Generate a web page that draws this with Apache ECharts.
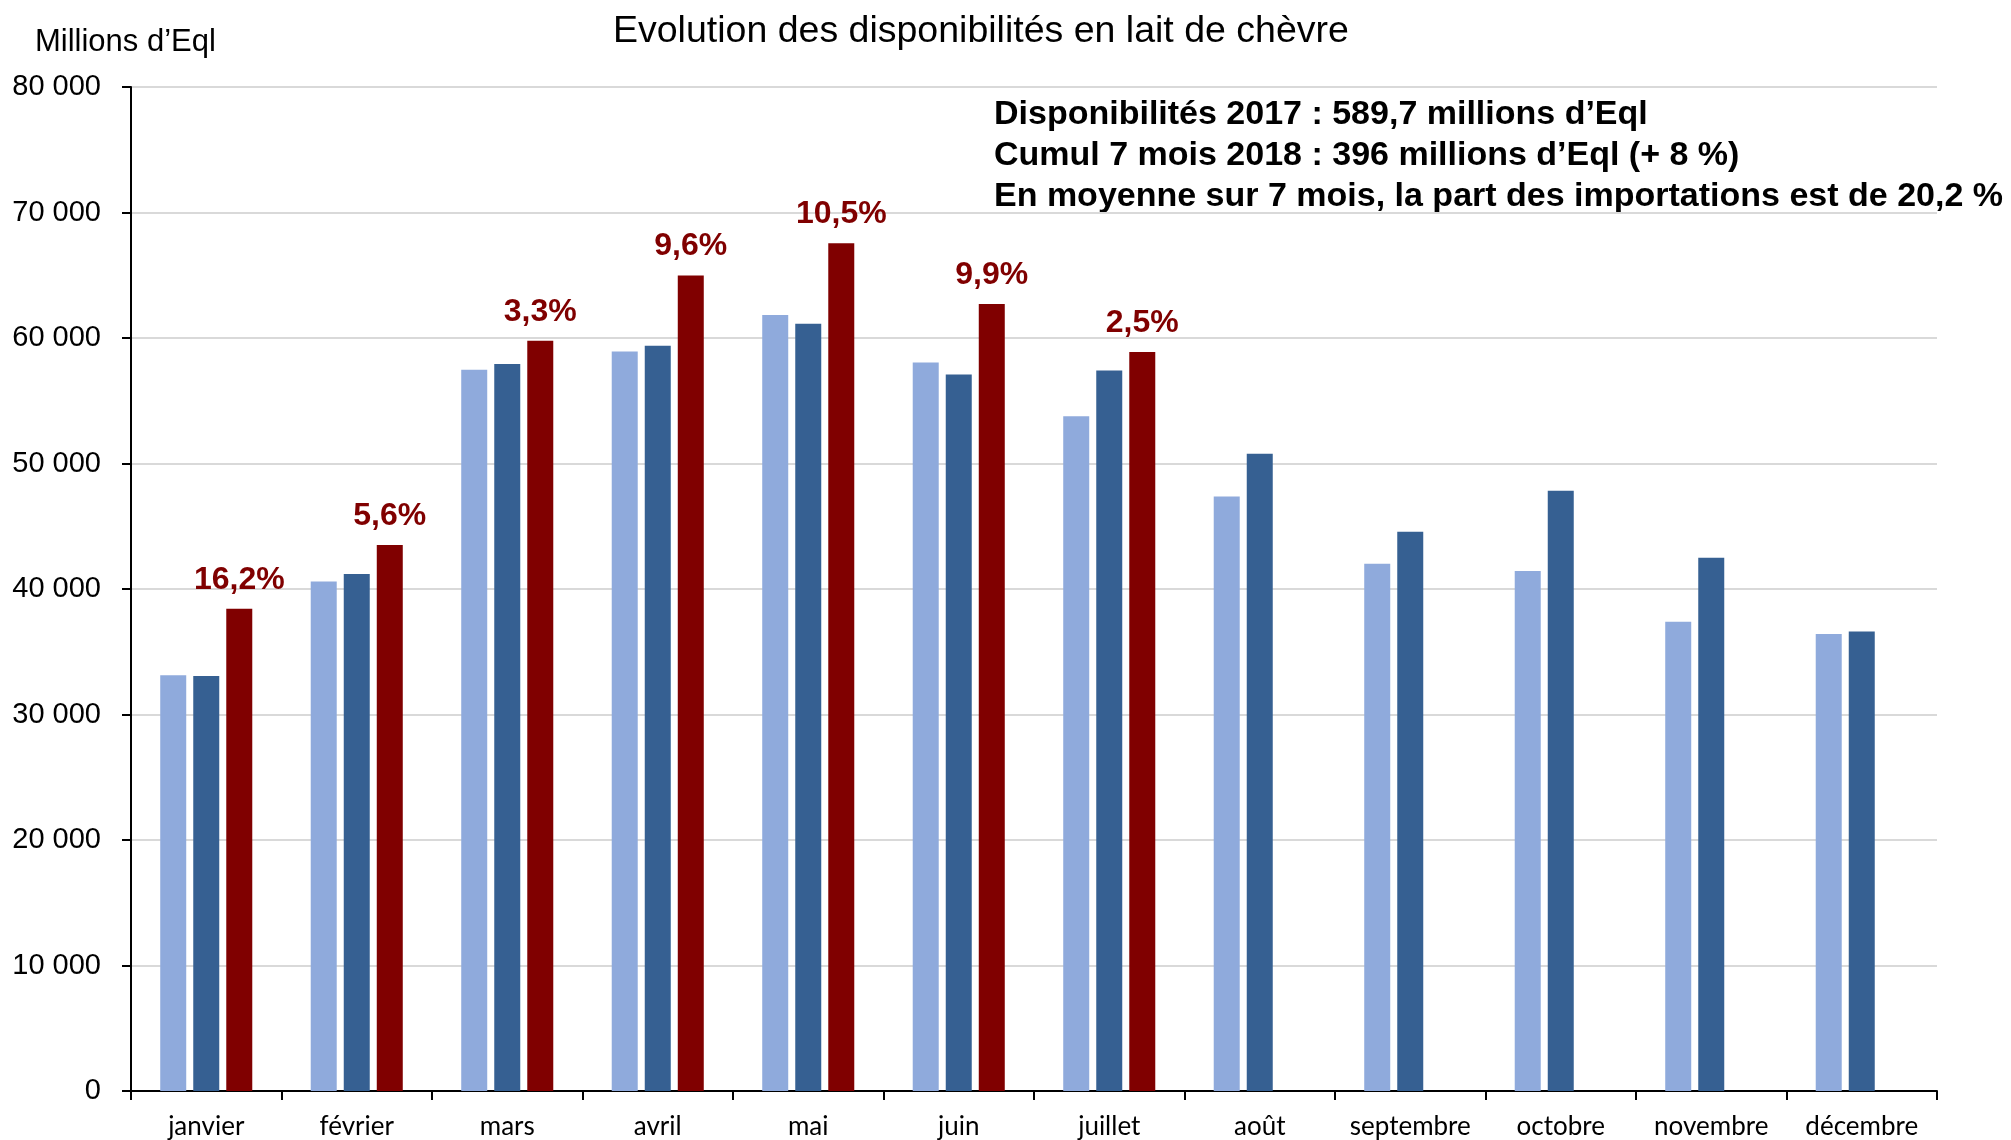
<!DOCTYPE html>
<html>
<head>
<meta charset="utf-8">
<script src="https://cdn.jsdelivr.net/npm/echarts@6/dist/echarts.min.js"></script>
<style>
html,body{margin:0;padding:0;background:#fff;}
#chart{width:2011px;height:1140px;}
</style>
</head>
<body>
<div id="chart"></div>
<script>
const months = ['janvier','février','mars','avril','mai','juin','juillet','août','septembre','octobre','novembre','décembre'];
const values2016 = [33120, 40600, 57470, 58930, 61830, 58040, 53760, 47370, 42010, 41430, 37400, 36410];
const values2017 = [33070, 41200, 57930, 59390, 61140, 57100, 57420, 50780, 44570, 47830, 42500, 36620];
const values2018 = [38430, 43500, 59780, 64990, 67540, 62710, 58890, null, null, null, null, null];
const growthLabels = ['16,2%','5,6%','3,3%','9,6%','10,5%','9,9%','2,5%','','','','',''];
const titleText = 'Evolution des disponibilités en lait de chèvre';
const unitText = 'Millions d\u2019Eql';
const noteLines = [
  'Disponibilités 2017 : 589,7 millions d\u2019Eql',
  'Cumul 7 mois 2018 : 396 millions d\u2019Eql (+ 8 %)',
  'En moyenne sur 7 mois, la part des importations est de 20,2 %'
];
const yTicks = {min: 0, max: 80000, interval: 10000};

const chart = echarts.init(document.getElementById('chart'), null, {renderer: 'canvas'});
const FONT = "'Liberation Sans', Arial, sans-serif";

function fmt(v){ return String(v).replace(/\B(?=(\d{3})+(?!\d))/g, ' '); }

const option = {
  backgroundColor: '#ffffff',
  animation: false,
  grid: {left: 131, right: 74, top: 87, bottom: 49, containLabel: false},
  xAxis: {
    type: 'category',
    data: months,
    boundaryGap: true,
    axisLine: {show: true, lineStyle: {color: '#000', width: 2}},
    axisTick: {show: true, length: 9, lineStyle: {color: '#000', width: 2}},
    axisLabel: {color: '#000', fontFamily: "Lato, 'Open Sans', sans-serif", fontSize: 26, margin: 23, interval: 0}
  },
  yAxis: {
    type: 'value',
    min: yTicks.min, max: yTicks.max, interval: yTicks.interval,
    axisLine: {show: true, lineStyle: {color: '#000', width: 2}},
    axisTick: {show: true, length: 9, lineStyle: {color: '#000', width: 2}},
    splitLine: {show: true, lineStyle: {color: '#d9d9d9', width: 2}},
    axisLabel: {color: '#000', fontFamily: FONT, fontSize: 29, margin: 30, formatter: fmt}
  },
  series: [
    {name: '2016', type: 'bar', data: values2016, barWidth: 26, barGap: '27%',
     itemStyle: {color: '#8faadc'}},
    {name: '2017', type: 'bar', data: values2017, barWidth: 26, barGap: '27%',
     itemStyle: {color: '#366092'}},
    {name: '2018', type: 'bar', data: values2018, barWidth: 26, barGap: '27%',
     itemStyle: {color: '#800000'},
     label: {show: true, position: 'top', distance: 13, color: '#800000', fontFamily: FONT,
             fontWeight: 'bold', fontSize: 32,
             formatter: p => growthLabels[p.dataIndex]}}
  ],
  graphic: [
    {type: 'text', left: 981 - 368, top: 13, style: {text: titleText, font: "37.5px 'Liberation Sans', Arial, sans-serif", fill: '#000'}},
    {type: 'text', left: 35, top: 27, style: {text: unitText, font: "31px 'Liberation Sans', Arial, sans-serif", fill: '#000'}},
    {type: 'text', left: 994, top: 98, style: {text: noteLines[0], font: "bold 34px 'Liberation Sans', Arial, sans-serif", fill: '#000'}},
    {type: 'text', left: 994, top: 139, style: {text: noteLines[1], font: "bold 34px 'Liberation Sans', Arial, sans-serif", fill: '#000'}},
    {type: 'text', left: 994, top: 180, style: {text: noteLines[2], font: "bold 34px 'Liberation Sans', Arial, sans-serif", fill: '#000'}}
  ]
};
chart.setOption(option);
</script>
</body>
</html>
